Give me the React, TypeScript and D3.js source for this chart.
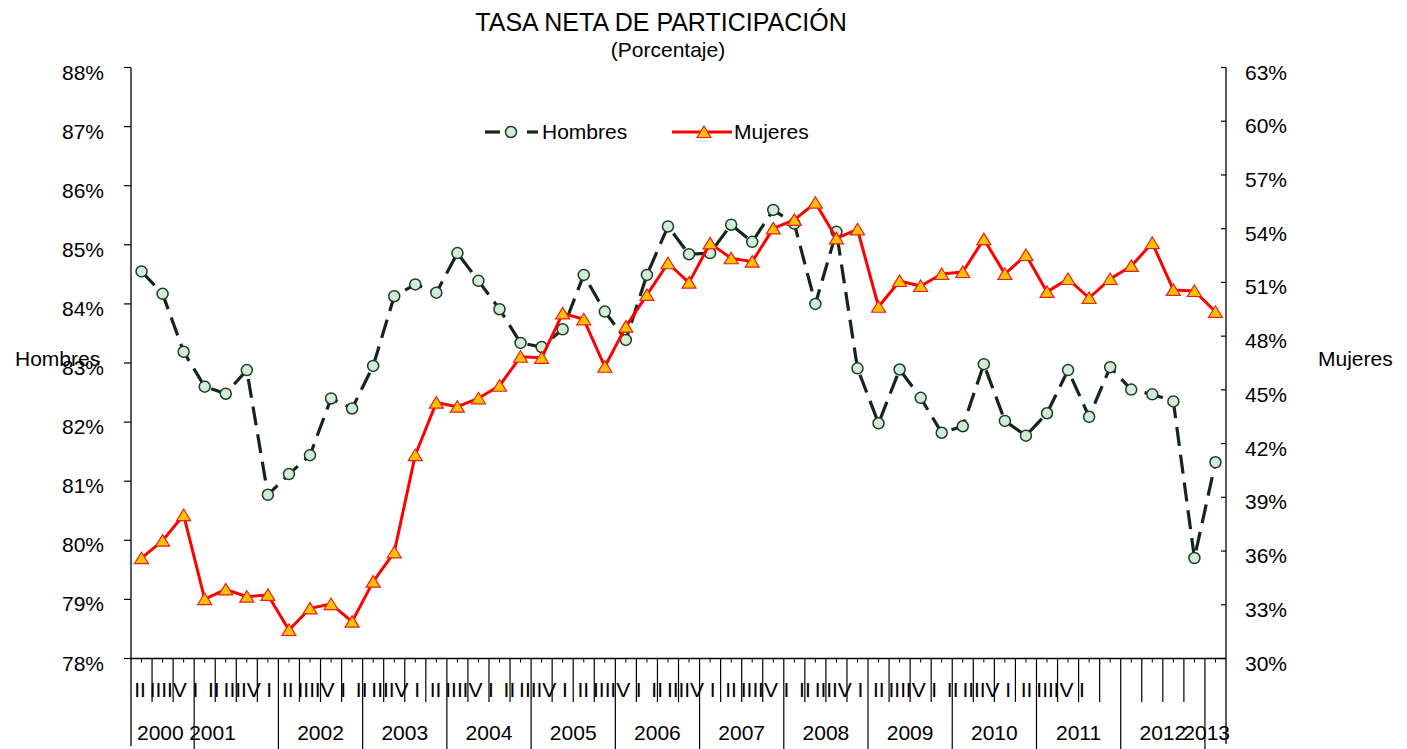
import React from "react";
import * as d3 from "d3";

// categories
const years = ["2000", "2001", "2002", "2003", "2004", "2005", "2006", "2007", "2008", "2009", "2010", "2011", "2012", "2013"];
const firstYearQuarters = ["II", "III", "IV"];
const fullYearQuarters = ["I", "II", "III", "IV"];
const lastYearQuarters = ["I"];

// series (percent)
const hombres = [
  84.55, 84.17, 83.19, 82.6, 82.48, 82.88, 80.77, 81.12, 81.44, 82.4, 82.23, 82.95,
  84.13, 84.33, 84.19, 84.86, 84.39, 83.91, 83.34, 83.27, 83.57, 84.49, 83.87, 83.39,
  84.49, 85.31, 84.84, 84.86, 85.34, 85.05, 85.59, 85.36, 84.0, 85.22, 82.91, 81.98,
  82.89, 82.41, 81.82, 81.93, 82.98, 82.02, 81.77, 82.15, 82.88, 82.09, 82.93, 82.55,
  82.47, 82.35, 79.7, 81.32,
];
const mujeres = [
  35.6, 36.58, 38.01, 33.32, 33.86, 33.45, 33.55, 31.59, 32.8, 33.04, 32.06, 34.29,
  35.93, 41.36, 44.29, 44.06, 44.53, 45.23, 46.85, 46.79, 49.27, 48.94, 46.29, 48.53,
  50.3, 52.07, 50.99, 53.18, 52.35, 52.16, 54.02, 54.49, 55.45, 53.46, 53.96, 49.64,
  51.08, 50.8, 51.47, 51.58, 53.42, 51.47, 52.53, 50.47, 51.19, 50.13, 51.19, 51.92,
  53.2, 50.58, 50.52, 49.36,
];

// axis ticks
const leftTicks = [78, 79, 80, 81, 82, 83, 84, 85, 86, 87, 88];
const rightTicks = [30, 33, 36, 39, 42, 45, 48, 51, 54, 57, 60, 63];

const categories = years.flatMap((year, i) => {
  const qs = i === 0 ? firstYearQuarters : i === years.length - 1 ? lastYearQuarters : fullYearQuarters;
  return qs.map((q) => ({ year, q, key: year + "-" + q }));
});

const FONT = "'Liberation Sans', Arial, Helvetica, sans-serif";

export default function App() {
  const width = 1407;
  const height = 749;
  const plot = { left: 131, right: 1226, top: 67.5, bottom: 658.5 };

  const x = d3
    .scaleBand()
    .domain(categories.map((c) => c.key))
    .range([plot.left, plot.right]);
  const cx = (i: number) => (x(categories[i].key) as number) + x.bandwidth() / 2;

  const yL = d3.scaleLinear().domain([78, 88]).range([plot.bottom, plot.top]);
  const yR = d3.scaleLinear().domain([30, 63]).range([plot.bottom, plot.top]);

  // quarter labels were squeezed in the original render
  const qx = d3.scaleLinear().domain([0, categories.length - 1]).range([140, 1082]);

  const lineH = d3
    .line<number>()
    .x((_, i) => cx(i))
    .y((d) => yL(d));
  const lineM = d3
    .line<number>()
    .x((_, i) => cx(i))
    .y((d) => yR(d));

  const groups = d3.groups(categories, (c) => c.year).map(([year, cs]) => {
    const start = x(cs[0].key) as number;
    const end = (x(cs[cs.length - 1].key) as number) + x.bandwidth();
    return { year, start, end, n: cs.length };
  });
  const yearBounds = groups.slice(0, -1).map((g) => g.end);

  const triangle = "M0,-6L7,5.5L-7,5.5Z";

  return (
    <svg
      width={width}
      height={height}
      style={{ position: "absolute", left: 0, top: 0, background: "#fff" }}
      fontFamily={FONT}
    >
      <rect width={width} height={height} fill="#fff" />

      {/* Title */}
      <text x={661} y={31} textAnchor="middle" fontSize={25} fill="#000">
        TASA NETA DE PARTICIPACIÓN
      </text>
      <text x={668} y={57} textAnchor="middle" fontSize={21} fill="#000">
        (Porcentaje)
      </text>

      {/* Left axis */}
      <line x1={plot.left} x2={plot.left} y1={plot.top} y2={746} stroke="#000" strokeWidth={1.3} />
      {leftTicks.map((t) => (
        <g key={"l" + t}>
          <line x1={plot.left - 7} x2={plot.left} y1={yL(t)} y2={yL(t)} stroke="#000" strokeWidth={1.2} />
          <text x={104} y={yL(t) + 12} textAnchor="end" fontSize={21} fill="#000">
            {t}%
          </text>
        </g>
      ))}

      {/* Right axis */}
      <line x1={plot.right} x2={plot.right} y1={plot.top} y2={744} stroke="#000" strokeWidth={1.3} />
      {rightTicks.map((t) => (
        <g key={"r" + t}>
          <line x1={plot.right - 5} x2={plot.right} y1={yR(t)} y2={yR(t)} stroke="#000" strokeWidth={1.2} />
          <text x={1245} y={yR(t) + 12} textAnchor="start" fontSize={21} fill="#000">
            {t}%
          </text>
        </g>
      ))}

      {/* Axis titles */}
      <text x={15} y={366} fontSize={21} fill="#000">
        Hombres
      </text>
      <text x={1318} y={366} fontSize={21} fill="#000">
        Mujeres
      </text>

      {/* X axis */}
      <line x1={plot.left} x2={plot.right} y1={plot.bottom} y2={plot.bottom} stroke="#000" strokeWidth={1.3} />
      {categories.map((c, i) => (
        <line key={"m" + c.key} x1={cx(i)} x2={cx(i)} y1={plot.bottom} y2={plot.bottom + 4} stroke="#000" strokeWidth={1} />
      ))}
      {categories.slice(1).map((c) => {
        const bx = x(c.key) as number;
        if (yearBounds.some((b) => Math.abs(b - bx) < 0.5)) return null;
        return <line key={"t" + c.key} x1={bx} x2={bx} y1={plot.bottom} y2={702} stroke="#000" strokeWidth={1.2} />;
      })}
      {yearBounds.map((b) => (
        <line key={"y" + b} x1={b} x2={b} y1={plot.bottom} y2={749} stroke="#000" strokeWidth={1.2} />
      ))}

      {/* Quarter labels */}
      {categories.map((c, i) => (
        <text key={"q" + c.key} x={qx(i)} y={697} textAnchor="middle" fontSize={21} fill="#000">
          {c.q}
        </text>
      ))}

      {/* Year labels */}
      {groups.map((g, i) => {
        let tx = (g.start + g.end) / 2;
        let anchor: "start" | "middle" | "end" = "middle";
        if (i === 0 && g.n < 4) {
          tx = g.start + 6;
          anchor = "start";
        } else if (i === groups.length - 1 && g.n < 4) {
          tx = g.end + 4;
          anchor = "end";
        } else if (i > 0 && groups[i - 1].n < 4) {
          tx = g.start - 5;
          anchor = "start";
        }
        return (
          <text key={"yl" + g.year} x={tx} y={740} textAnchor={anchor} fontSize={21} fill="#000">
            {g.year}
          </text>
        );
      })}

      {/* Hombres */}
      <path d={lineH(hombres) ?? ""} fill="none" stroke="#14261b" strokeWidth={3.2} strokeDasharray="19,9" />
      {hombres.map((v, i) => (
        <circle key={"h" + i} cx={cx(i)} cy={yL(v)} r={5.5} fill="#d2ecd6" stroke="#1e3b2a" strokeWidth={1.5} />
      ))}

      {/* Mujeres */}
      <path d={lineM(mujeres) ?? ""} fill="none" stroke="#ff0000" strokeWidth={3} strokeLinejoin="round" />
      {mujeres.map((v, i) => (
        <path
          key={"mj" + i}
          d={triangle}
          transform={`translate(${cx(i)},${yR(v)})`}
          fill="#ffc000"
          stroke="#e8201a"
          strokeWidth={1.2}
        />
      ))}

      {/* Legend */}
      <g>
        <line x1={485} x2={500} y1={132} y2={132} stroke="#14261b" strokeWidth={3.2} />
        <line x1={527} x2={538} y1={132} y2={132} stroke="#14261b" strokeWidth={3.2} />
        <circle cx={511} cy={132} r={5.5} fill="#d2ecd6" stroke="#1e3b2a" strokeWidth={1.5} />
        <text x={542} y={139} fontSize={21} fill="#000">
          Hombres
        </text>
        <line x1={672} x2={732} y1={132} y2={132} stroke="#ff0000" strokeWidth={3} />
        <path d={triangle} transform="translate(704,132)" fill="#ffc000" stroke="#e8201a" strokeWidth={1.2} />
        <text x={734} y={139} fontSize={21} fill="#000">
          Mujeres
        </text>
      </g>
    </svg>
  );
}
